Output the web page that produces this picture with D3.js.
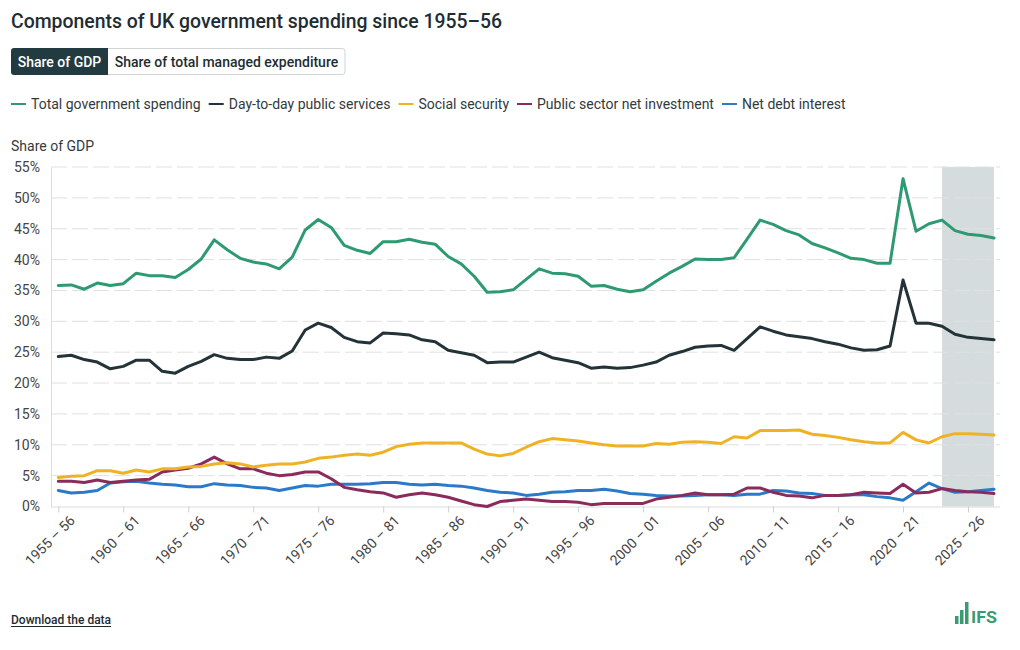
<!DOCTYPE html>
<html>
<head>
<meta charset="utf-8">
<script src="https://cdn.jsdelivr.net/npm/d3@7"></script>
<style>
  html, body { margin: 0; padding: 0; background: #fff; }
  body { width: 1020px; height: 650px; overflow: hidden; font-family: Roboto, "Noto Sans", sans-serif; }
  svg text { font-family: Roboto, "Noto Sans", sans-serif; }
</style>
</head>
<body>
<svg id="chart" width="1020" height="650"></svg>
<script>
// ---------- DATA ----------
const startYear = 1955;
const endYear = 2027;
const forecastStart = 2023;

const seriesNames = [
  "Total government spending",
  "Day-to-day public services",
  "Social security",
  "Public sector net investment",
  "Net debt interest"
];
const seriesColors = ["#2e9a72", "#233338", "#efb224", "#8a2c5b", "#2a7ac9"];

const totalSpending = [
  35.8, 35.9, 35.2, 36.2, 35.8, 36.1, 37.8, 37.4, 37.4, 37.1,
  38.4, 40.1, 43.2, 41.6, 40.2, 39.6, 39.3, 38.5, 40.4, 44.8,
  46.5, 45.2, 42.3, 41.5, 41.0, 42.9, 42.9, 43.3, 42.8, 42.5,
  40.5, 39.3, 37.3, 34.7, 34.8, 35.1, 36.8, 38.5, 37.8, 37.7,
  37.3, 35.7, 35.8, 35.2, 34.8, 35.1, 36.5, 37.8, 38.9, 40.1,
  40.0, 40.0, 40.3, 43.3, 46.4, 45.7, 44.7, 44.0, 42.6, 41.9,
  41.1, 40.2, 40.0, 39.4, 39.4, 53.1, 44.6, 45.8, 46.4, 44.7,
  44.1, 43.9, 43.5
];
const dayToDay = [
  24.3, 24.5, 23.8, 23.4, 22.3, 22.7, 23.7, 23.7, 21.9, 21.6,
  22.7, 23.5, 24.6, 24.0, 23.8, 23.8, 24.2, 24.0, 25.2, 28.6,
  29.7, 29.0, 27.4, 26.7, 26.5, 28.1, 28.0, 27.8, 27.0, 26.7,
  25.3, 24.9, 24.5, 23.3, 23.4, 23.4, 24.2, 25.0, 24.1, 23.7,
  23.3, 22.4, 22.6, 22.4, 22.5, 22.9, 23.4, 24.5, 25.1, 25.8,
  26.0, 26.1, 25.3, 27.2, 29.1, 28.4, 27.8, 27.5, 27.2, 26.7,
  26.3, 25.7, 25.3, 25.4, 26.0, 36.7, 29.7, 29.7, 29.2, 27.9,
  27.4, 27.2, 27.0
];
const socialSecurity = [
  4.7, 4.9, 5.0, 5.8, 5.8, 5.4, 5.9, 5.6, 6.1, 6.1,
  6.4, 6.5, 6.9, 7.1, 6.9, 6.4, 6.7, 6.9, 6.9, 7.2,
  7.8, 8.0, 8.3, 8.5, 8.3, 8.8, 9.7, 10.1, 10.3, 10.3,
  10.3, 10.3, 9.3, 8.5, 8.2, 8.6, 9.6, 10.5, 11.0, 10.8,
  10.6, 10.3, 10.0, 9.8, 9.8, 9.8, 10.2, 10.1, 10.4, 10.5,
  10.4, 10.2, 11.3, 11.1, 12.3, 12.3, 12.3, 12.4, 11.7, 11.5,
  11.2, 10.8, 10.5, 10.3, 10.3, 12.0, 10.8, 10.3, 11.3, 11.8,
  11.8, 11.7, 11.6
];
const netInvestment = [
  4.1, 4.1, 3.9, 4.3, 3.9, 4.1, 4.3, 4.4, 5.6, 5.9,
  6.2, 6.9, 8.0, 6.9, 6.1, 6.1, 5.4, 5.0, 5.2, 5.6,
  5.6, 4.5, 3.1, 2.7, 2.4, 2.2, 1.5, 1.9, 2.2, 1.9,
  1.5, 0.9, 0.3, 0.0, 0.8, 1.0, 1.2, 1.0, 0.8, 0.8,
  0.7, 0.3, 0.5, 0.5, 0.5, 0.5, 1.2, 1.5, 1.8, 2.2,
  1.9, 1.9, 2.0, 3.0, 3.0, 2.3, 1.8, 1.7, 1.4, 1.8,
  1.8, 1.9, 2.3, 2.2, 2.1, 3.6, 2.2, 2.3, 2.9, 2.6,
  2.4, 2.3, 2.1
];
const debtInterest = [
  2.6, 2.2, 2.3, 2.6, 3.8, 4.0, 4.1, 3.8, 3.6, 3.5,
  3.2, 3.2, 3.7, 3.5, 3.4, 3.1, 3.0, 2.6, 3.0, 3.4,
  3.3, 3.6, 3.6, 3.6, 3.7, 3.9, 3.9, 3.6, 3.5, 3.6,
  3.4, 3.3, 3.0, 2.6, 2.3, 2.2, 1.8, 2.0, 2.3, 2.4,
  2.6, 2.6, 2.8, 2.5, 2.1, 2.0, 1.8, 1.7, 1.7, 1.8,
  1.9, 1.9, 1.8, 2.0, 2.0, 2.6, 2.5, 2.2, 2.1, 1.8,
  1.8, 1.9, 1.9, 1.6, 1.4, 1.0, 2.4, 3.8, 2.9, 2.3,
  2.4, 2.6, 2.8
];
const yTicks = [0, 5, 10, 15, 20, 25, 30, 35, 40, 45, 50, 55];
const xTickYears = [1955, 1960, 1965, 1970, 1975, 1980, 1985, 1990, 1995, 2000, 2005, 2010, 2015, 2020, 2025];

const allSeries = [totalSpending, dayToDay, socialSecurity, netInvestment, debtInterest];
const years = d3.range(startYear, endYear + 1);
const yearLabel = y => `${y} – ${String((y + 1) % 100).padStart(2, "0")}`;

// ---------- LAYOUT ----------
const svg = d3.select("#chart");
const plot = { left: 51, right: 1000, top: 167, bottom: 506.5 };

// Title
svg.append("text").attr("x", 11).attr("y", 28)
  .attr("font-size", 19.4).attr("font-weight", 500).attr("fill", "#1e2d33")
  .text("Components of UK government spending since 1955–56");

// Toggle buttons
const btnY = 48, btnH = 27;
svg.append("path")
  .attr("d", `M14,${btnY} H108 V${btnY + btnH} H14 Q11,${btnY + btnH} 11,${btnY + btnH - 3} V${btnY + 3} Q11,${btnY} 14,${btnY} Z`)
  .attr("fill", "#213b41");
svg.append("path")
  .attr("d", `M108,${btnY + 0.5} H342 Q345,${btnY + 0.5} 345,${btnY + 3.5} V${btnY + btnH - 3.5} Q345,${btnY + btnH - 0.5} 342,${btnY + btnH - 0.5} H108`)
  .attr("fill", "#fff").attr("stroke", "#cfd4d6").attr("stroke-width", 1);
svg.append("text").attr("x", 59.5).attr("y", btnY + 19)
  .attr("text-anchor", "middle").attr("font-size", 14).attr("font-weight", 500).attr("fill", "#fff")
  .text("Share of GDP");
svg.append("text").attr("x", 226.5).attr("y", btnY + 19)
  .attr("text-anchor", "middle").attr("font-size", 14).attr("font-weight", 500).attr("fill", "#1e2d33")
  .text("Share of total managed expenditure");

// Legend
let lx = 11;
const legY = 104;
seriesNames.forEach((name, i) => {
  const g = svg.append("g");
  g.append("line").attr("x1", lx).attr("x2", lx + 15).attr("y1", legY).attr("y2", legY)
    .attr("stroke", seriesColors[i]).attr("stroke-width", 2);
  const t = g.append("text").attr("x", lx + 20).attr("y", legY + 5)
    .attr("font-size", 14).attr("fill", "#333a3d").text(name);
  lx += 20 + t.node().getComputedTextLength() + 8;
});

// Axis title
svg.append("text").attr("x", 11).attr("y", 151)
  .attr("font-size", 14).attr("fill", "#333a3d").text("Share of GDP");

// Scales
const x = d3.scaleLinear().domain([startYear, endYear]).range([58.3, 994]);
const y = d3.scaleLinear().domain([0, 55]).range([plot.bottom, plot.top]);

// Forecast shading
svg.append("rect")
  .attr("x", x(forecastStart)).attr("y", plot.top)
  .attr("width", x(endYear) - x(forecastStart)).attr("height", plot.bottom - plot.top)
  .attr("fill", "#d5dcde");

// Gridlines
svg.append("g").selectAll("line").data(yTicks.filter(v => v > 0)).join("line")
  .attr("x1", plot.left).attr("x2", plot.right)
  .attr("y1", d => y(d)).attr("y2", d => y(d))
  .attr("stroke", "#e0e0e0").attr("stroke-width", 1).attr("stroke-dasharray", "16,5");

// Y axis
const yAxis = d3.axisLeft(y).tickValues(yTicks).tickFormat(d => d + "%").tickSize(0).tickPadding(11);
const gy = svg.append("g").attr("transform", `translate(${plot.left},0)`).call(yAxis);
gy.select(".domain").attr("stroke", "#dcdcdc");
gy.selectAll("text").attr("font-size", 14).attr("fill", "#444").attr("font-family", "Roboto, sans-serif");

// X axis
const xAxis = d3.axisBottom(x).tickValues(xTickYears).tickFormat(yearLabel).tickSize(6).tickSizeOuter(0).tickPadding(4);
const gx = svg.append("g").attr("transform", `translate(0,${plot.bottom})`).call(xAxis);
gx.select(".domain").attr("d", `M${plot.left},0.5H${plot.right}`).attr("stroke", "#dcdcdc");
gx.selectAll(".tick line").attr("stroke", "#cfcfcf");
gx.selectAll("text")
  .attr("font-size", 14).attr("fill", "#444").attr("font-family", "Roboto, sans-serif")
  .attr("text-anchor", "end")
  .attr("dx", "0.1em").attr("dy", "0.9em")
  .attr("transform", "rotate(-45)");

// Lines
const line = d3.line().x((d, i) => x(years[i])).y(d => y(d)).curve(d3.curveLinear);
const drawOrder = [4, 3, 2, 1, 0];
svg.append("g").selectAll("path").data(drawOrder).join("path")
  .attr("d", i => line(allSeries[i]))
  .attr("fill", "none")
  .attr("stroke", i => seriesColors[i])
  .attr("stroke-width", 3)
  .attr("stroke-linejoin", "round")
  .attr("stroke-linecap", "round");

// Footer
const dl = svg.append("text").attr("x", 11).attr("y", 624)
  .attr("font-size", 12).attr("font-weight", 500).attr("fill", "#1e2d33")
  .text("Download the data");
const dlw = dl.node().getComputedTextLength();
svg.append("line").attr("x1", 11).attr("x2", 11 + dlw).attr("y1", 626.5).attr("y2", 626.5)
  .attr("stroke", "#1e2d33").attr("stroke-width", 1);

// IFS logo
const logo = svg.append("g").attr("transform", "translate(955,602)");
const logoBars = [{ x: 0, h: 8 }, { x: 5, h: 14 }, { x: 10, h: 22 }];
logo.selectAll("rect").data(logoBars).join("rect")
  .attr("x", d => d.x).attr("y", d => 22 - d.h).attr("width", 3.5).attr("height", d => d.h)
  .attr("fill", "#3a9b73");
logo.append("text").attr("x", 16).attr("y", 21)
  .attr("font-size", 17).attr("font-weight", 700).attr("fill", "#3a9b73")
  .attr("font-family", "'Roboto Condensed', 'Liberation Sans Narrow', Roboto, sans-serif")
  .attr("textLength", 26).attr("lengthAdjust", "spacingAndGlyphs")
  .text("IFS");
</script>
</body>
</html>
